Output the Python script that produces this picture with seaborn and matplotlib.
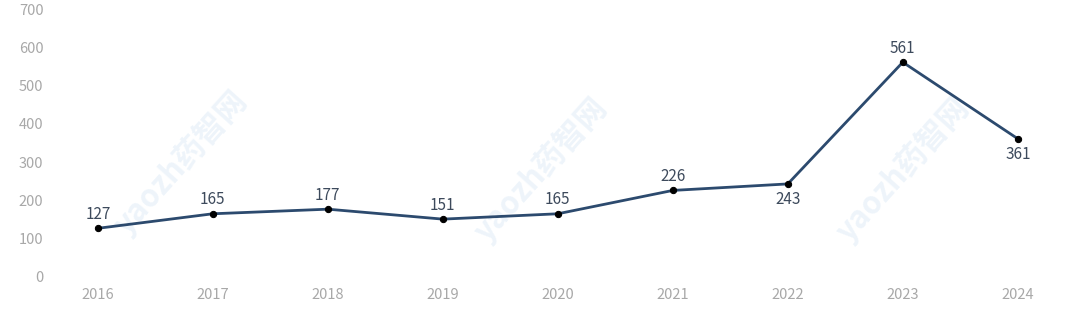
import matplotlib
matplotlib.use("Agg")
import matplotlib.pyplot as plt
import seaborn as sns
import pandas as pd

years = ["2016", "2017", "2018", "2019", "2020", "2021", "2022", "2023", "2024"]
values = [127, 165, 177, 151, 165, 226, 243, 561, 361]
label_below = [False, False, False, False, False, False, True, False, True]
y_ticks = [0, 100, 200, 300, 400, 500, 600, 700]

sns.set_theme(style="white")
plt.rcParams['font.family'] = ['Noto Sans CJK SC', 'DejaVu Sans']

df = pd.DataFrame({"year": years, "value": values})

fig = plt.figure(figsize=(10.8, 3.22), dpi=100)
ax = fig.add_axes([0.048, 0.14, 0.937, 0.832])

sns.lineplot(data=df, x="year", y="value", ax=ax, color="#2c4a6e", linewidth=2,
             marker="o", markersize=4.5, markerfacecolor="black", markeredgecolor="black",
             sort=False)

for i, (v, below) in enumerate(zip(values, label_below)):
    if below:
        ax.annotate(str(v), (i, v), xytext=(0, -5), textcoords="offset points",
                    ha="center", va="top", fontsize=11, color="#3d4a5c")
    else:
        ax.annotate(str(v), (i, v), xytext=(0, 4), textcoords="offset points",
                    ha="center", va="bottom", fontsize=11, color="#3d4a5c")

# watermarks
for xw, yw in [(0.72, 300), (3.85, 280), (7.0, 280)]:
    ax.text(xw, yw, "yaozh药智网", rotation=48, fontsize=22, fontweight="bold",
            color="#6fa8dc", alpha=0.12, ha="center", va="center", zorder=0)

ax.set_xlim(-0.4, 8.4)
ax.set_ylim(0, 700)
ax.set_yticks(y_ticks)
ax.set_xlabel("")
ax.set_ylabel("")
for s in ax.spines.values():
    s.set_visible(False)
ax.tick_params(axis="both", length=0, labelsize=10.5, labelcolor="#a8a8a8")
ax.tick_params(axis="x", pad=8)
ax.tick_params(axis="y", pad=6)

fig.savefig("out.png", dpi=100)
